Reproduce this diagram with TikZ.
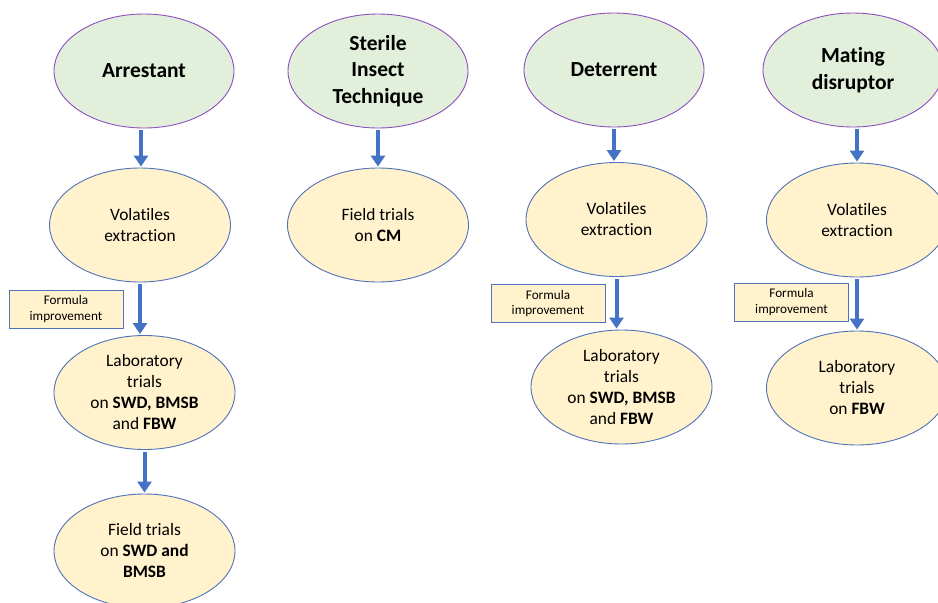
\documentclass[tikz,border=0pt]{standalone}
\usepackage{fontspec}
\setmainfont{Carlito}[Ligatures={NoCommon}]
\usetikzlibrary{shapes.geometric,arrows.meta}
\definecolor{greenfill}{HTML}{E2EFDA}
\definecolor{purpleline}{HTML}{8E4FBF}
\definecolor{yellowfill}{HTML}{FFF2CC}
\definecolor{blueline}{HTML}{4F72B8}
\definecolor{arrowblue}{HTML}{4472C4}
\tikzset{
  topell/.style={ellipse, draw=purpleline, line width=0.9pt, fill=greenfill,
    minimum width=180pt, minimum height=114pt, inner sep=0pt, align=center,
    font=\fontsize{21.5}{26.7}\selectfont\bfseries},
  stepell/.style={ellipse, draw=blueline, line width=0.9pt, fill=yellowfill,
    minimum width=181pt, minimum height=114pt, inner sep=0pt, align=center,
    font=\fontsize{17.4}{21}\selectfont},
  formbox/.style={rectangle, draw=blueline, line width=1pt, fill=yellowfill,
    minimum width=114pt, minimum height=38pt, inner sep=0pt, align=center,
    font=\fontsize{13.2}{15.7}\selectfont},
  arr/.style={draw=arrowblue, line width=4pt,
    -{Triangle[width=14pt,length=11pt]}, shorten <=2pt, shorten >=1pt}
}
\begin{document}
\begin{tikzpicture}[x=1pt,y=-1pt]
\useasboundingbox (0,0) rectangle (938,603);
\clip (0,0) rectangle (938,603);
\fill[white] (0,0) rectangle (938,603);
% column 1
\node[topell] (arr) at (144,71) {Arrestant};
\node[stepell] (ve1) at (140,225) {Volatiles\\extraction};
\node[formbox] (fi1) at (66,309) {Formula\\improvement};
\node[stepell] (lab1) at (144.5,392.5) {Laboratory\\trials\\on \textbf{SWD, BMSB}\\and \textbf{FBW}};
\node[stepell] (fld1) at (144.5,551) {Field trials\\on \textbf{SWD and}\\\textbf{BMSB}};
% column 2
\node[topell] (sit) at (378,71) {Sterile\\Insect\\Technique};
\node[stepell] (fld2) at (378,225) {Field trials\\on \textbf{CM}};
% column 3
\node[topell] (det) at (614,70) {Deterrent};
\node[stepell] (ve3) at (616.5,219.5) {Volatiles\\extraction};
\node[formbox] (fi3) at (548,303.5) {Formula\\improvement};
\node[stepell] (lab3) at (621.5,387) {Laboratory\\trials\\on \textbf{SWD, BMSB}\\and \textbf{FBW}};
% column 4
\node[topell] (mat) at (853,70) {Mating\\disruptor};
\node[stepell] (ve4) at (857,220) {Volatiles\\extraction};
\node[formbox] (fi4) at (791.5,302) {Formula\\improvement};
\node[stepell] (lab4) at (857,388) {Laboratory\\trials\\on \textbf{FBW}};
% arrows
\draw[arr] (141,128) -- (ve1.north -| 141,0);
\draw[arr] (ve1.south) -- (ve1.south |- lab1.north);
\draw[arr] (lab1.south) -- (lab1.south |- fld1.north);
\draw[arr] (sit.south) -- (sit.south |- fld2.north);
\draw[arr] (det.south) -- (det.south |- ve3.north);
\draw[arr] (ve3.south) -- (ve3.south |- lab3.north);
\draw[arr] (ve4.south |- mat.south) -- (ve4.north);
\draw[arr] (ve4.south) -- (lab4.north);
\end{tikzpicture}
\end{document}
